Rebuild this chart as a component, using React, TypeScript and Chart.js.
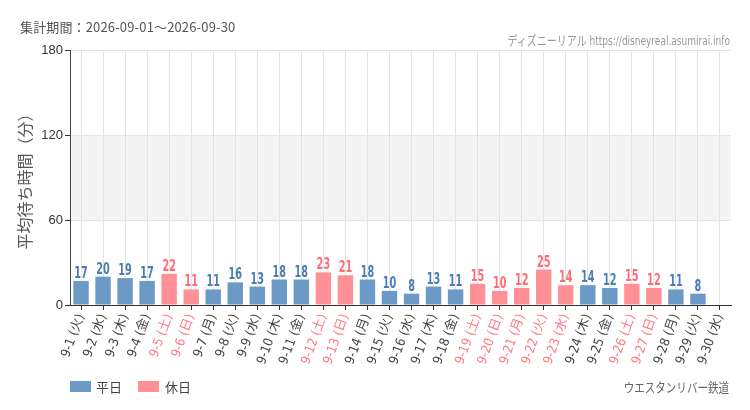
import React, { useEffect, useRef } from "react";
import { Chart, registerables } from "chart.js";

Chart.register(...registerables);

const days = [
  "9-1", "9-2", "9-3", "9-4", "9-5", "9-6", "9-7", "9-8", "9-9", "9-10",
  "9-11", "9-12", "9-13", "9-14", "9-15", "9-16", "9-17", "9-18", "9-19", "9-20",
  "9-21", "9-22", "9-23", "9-24", "9-25", "9-26", "9-27", "9-28", "9-29", "9-30",
];
const weekdayNames = [
  "火", "水", "木", "金", "土", "日", "月", "火", "水", "木",
  "金", "土", "日", "月", "火", "水", "木", "金", "土", "日",
  "月", "火", "水", "木", "金", "土", "日", "月", "火", "水",
];
const waitTimes: (number | null)[] = [
  17, 20, 19, 17, 22, 11, 11, 16, 13, 18,
  18, 23, 21, 18, 10, 8, 13, 11, 15, 10,
  12, 25, 14, 14, 12, 15, 12, 11, 8, null,
];
const holidayFlags = [
  false, false, false, false, true, true, false, false, false, false,
  false, true, true, false, false, false, false, false, true, true,
  true, true, true, false, false, true, true, false, false, false,
];
const yTicks = [0, 60, 120, 180];

const WEEKDAY_BAR = "#6b9ac6";
const HOLIDAY_BAR = "#ff9196";
const WEEKDAY_TEXT = "#4a7db5";
const HOLIDAY_TEXT = "#ff6b76";
const COND = "'DejaVu Sans Condensed', 'Liberation Sans Narrow', 'Noto Sans CJK JP', sans-serif";
const JP = "'Noto Sans CJK JP', sans-serif";

const labels = days.map((d, i) => `${d} (${weekdayNames[i]})`);

// shaded band between 60 and 120
const bandPlugin = {
  id: "band",
  beforeDraw(chart: any) {
    const { ctx, chartArea, scales } = chart;
    const top = scales.y.getPixelForValue(120);
    const bottom = scales.y.getPixelForValue(60);
    ctx.save();
    ctx.fillStyle = "#f4f4f4";
    ctx.fillRect(chartArea.left, top, chartArea.right - chartArea.left, bottom - top);
    ctx.restore();
  },
};

// numbers above the bars (narrow digits like the original)
const valueLabels = {
  id: "valueLabels",
  afterDatasetsDraw(chart: any) {
    const { ctx } = chart;
    chart.data.datasets.forEach((ds: any, di: number) => {
      const meta = chart.getDatasetMeta(di);
      meta.data.forEach((bar: any, i: number) => {
        const v = ds.data[i];
        if (v == null) return;
        ctx.save();
        ctx.font = `bold 15px ${COND}`;
        ctx.textAlign = "center";
        ctx.textBaseline = "alphabetic";
        ctx.fillStyle = holidayFlags[i] ? HOLIDAY_TEXT : WEEKDAY_TEXT;
        ctx.translate(bar.x, bar.y - 3);
        ctx.scale(0.72, 1.05);
        ctx.fillText(String(v), 0, 0);
        ctx.restore();
      });
    });
  },
};

const App = () => {
  const canvasRef = useRef<HTMLCanvasElement>(null);

  useEffect(() => {
    const config: any = {
      type: "bar",
      data: {
        labels,
        datasets: [
          {
            label: "平日",
            data: waitTimes.map((v, i) => (holidayFlags[i] ? null : v)),
            backgroundColor: WEEKDAY_BAR,
          },
          {
            label: "休日",
            data: waitTimes.map((v, i) => (holidayFlags[i] ? v : null)),
            backgroundColor: HOLIDAY_BAR,
          },
        ],
      },
      options: {
        animation: false,
        responsive: false,
        layout: { padding: { top: 50, right: 19, bottom: 40, left: 0 } },
        datasets: { bar: { categoryPercentage: 0.7, barPercentage: 1 } },
        plugins: { legend: { display: false }, tooltip: { enabled: false } },
        scales: {
          x: {
            stacked: true,
            grid: { offset: false, color: "#e4e4e4", tickColor: "#333", tickLength: 5 },
            border: { color: "#333" },
            ticks: {
              autoSkip: false,
              minRotation: 70,
              maxRotation: 70,
              padding: 2,
              font: { family: COND, size: 13 },
              color: (c: any) => (holidayFlags[c.index] ? "#ff7882" : "#444"),
            },
            afterFit: (s: any) => {
              s.height = 65;
            },
          },
          y: {
            min: 0,
            max: 180,
            afterBuildTicks: (s: any) => {
              s.ticks = yTicks.map((v) => ({ value: v }));
            },
            grid: { color: "#e4e4e4", tickColor: "#333", tickLength: 5 },
            border: { color: "#444" },
            ticks: { padding: 2, font: { family: "'Liberation Sans', sans-serif", size: 13 }, color: "#333" },
            title: {
              display: true,
              text: "平均待ち時間（分）",
              font: { family: JP, size: 16 },
              color: "#555",
              padding: { top: 15, bottom: 0 },
            },
            afterFit: (s: any) => {
              s.width = 70;
            },
          },
        },
      },
      plugins: [bandPlugin, valueLabels],
    };

    const chart = new Chart(canvasRef.current as HTMLCanvasElement, config);
    return () => {
      chart.destroy();
    };
  }, []);

  return (
    <div style={{ position: "absolute", left: 0, top: 0, width: 750, height: 410, background: "#fff", fontFamily: JP }}>
      <canvas ref={canvasRef} width={750} height={410} style={{ position: "absolute", left: 0, top: 0 }} />
      <div style={{ position: "absolute", left: 20, top: 17, fontSize: 13, letterSpacing: 0.15, color: "#555", whiteSpace: "nowrap" }}>
        集計期間：2026-09-01～2026-09-30
      </div>
      <div
        style={{
          position: "absolute",
          right: 20,
          top: 30,
          fontSize: 13,
          color: "#999",
          whiteSpace: "nowrap",
          fontFamily: COND,
          transform: "scaleX(0.77)",
          transformOrigin: "right center",
        }}
      >
        ディズニーリアル https://disneyreal.asumirai.info
      </div>
      <div style={{ position: "absolute", left: 70, top: 377, fontSize: 13, color: "#444", display: "flex", alignItems: "center" }}>
        <span style={{ display: "inline-block", width: 21, height: 11, background: WEEKDAY_BAR, marginRight: 5 }} />
        <span style={{ marginRight: 16 }}>平日</span>
        <span style={{ display: "inline-block", width: 21, height: 11, background: HOLIDAY_BAR, marginRight: 6 }} />
        <span>休日</span>
      </div>
      <div
        style={{
          position: "absolute",
          right: 21,
          top: 377,
          fontSize: 13,
          color: "#666",
          whiteSpace: "nowrap",
          transform: "scaleX(0.81)",
          transformOrigin: "right center",
        }}
      >
        ウエスタンリバー鉄道
      </div>
    </div>
  );
};

export default App;
